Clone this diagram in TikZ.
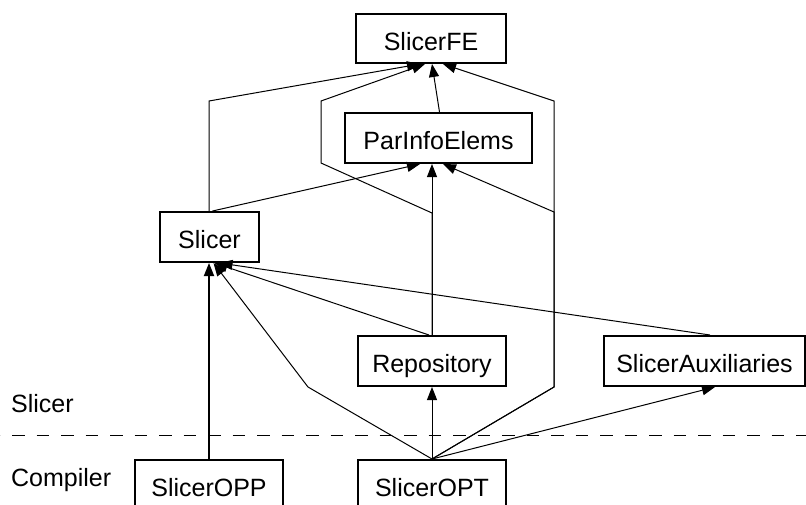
\documentclass[tikz,border=0pt]{standalone}
\usepackage{fontspec}
\setmainfont{Liberation Sans}
\usetikzlibrary{arrows.meta}
\begin{document}
\begin{tikzpicture}[x=1pt,y=-1pt,
  box/.style={draw,line width=2pt,inner sep=0pt,text height=23pt,text depth=0pt,font=\fontsize{25}{29}\selectfont},
  lbl/.style={anchor=base west,inner sep=0pt,font=\fontsize{25}{29}\selectfont},
  conn/.style={line width=1pt,line join=miter,-{Triangle[length=13pt,width=10pt]}}]
\useasboundingbox (0,0) rectangle (806,504);
\clip (0,0) rectangle (806,504);
% boxes
\node[box,minimum width=150pt,minimum height=49pt] (fe) at (431,38.5) {SlicerFE};
\node[box,minimum width=187pt,minimum height=50pt] (pie) at (438.5,138) {ParInfoElems};
\node[box,minimum width=99pt,minimum height=50pt] (sl) at (209.5,237) {Slicer};
\node[box,minimum width=148pt,minimum height=50pt] (rep) at (432,361) {Repository};
\node[box,minimum width=201pt,minimum height=50pt] (aux) at (704.5,361) {SlicerAuxiliaries};
\node[box,minimum width=148pt,minimum height=50pt] (opp) at (209,485) {SlicerOPP};
\node[box,minimum width=148pt,minimum height=50pt] (opt) at (432,485) {SlicerOPT};
% layer labels
\node[lbl] (lslicer) at (11,412) {Slicer};
\node[lbl] (lcomp) at (11,486) {Compiler};
\coordinate (dl) at (0,435);
\coordinate (dr) at (806,435);
\draw[line width=1pt,dash pattern=on 12.5pt off 12pt,dash phase=-12pt] (dl) -- (dr);
% connectors to SlicerFE
\draw[conn] ([xshift=-0.5pt]sl.north) -- (209,101) -- ([xshift=-11pt]fe.south);
\draw[conn] (rep.north) -- (432,213) -- (321,163) -- (321,101) -- ([xshift=-6pt]fe.south);
\draw[conn] ([xshift=1pt]pie.north) -- ([xshift=1pt]fe.south);
\draw[conn] (opt.north) -- (554,387) -- (554,101) -- ([xshift=12pt]fe.south);
% connectors to ParInfoElems
\draw[conn] ([xshift=3pt]sl.north) -- ([xshift=-18.5pt]pie.south);
\draw[conn] (rep.north) -- ([xshift=-6.5pt]pie.south);
\draw[conn] (opt.north) -- (554,387) -- (554,212) -- ([xshift=4.5pt]pie.south);
% connectors to Slicer
\draw[conn,line width=1.8pt] (opp.north) -- ([xshift=-0.5pt]sl.south);
\draw[conn] ([xshift=-3pt]rep.north) -- ([xshift=5pt]sl.south);
\draw[conn] ([xshift=5.5pt]aux.north) -- ([xshift=10pt]sl.south);
\draw[conn] (opt.north) -- (308,387) -- ([xshift=4pt]sl.south);
% connectors from SlicerOPT
\draw[conn] (opt.north) -- (rep.south);
\draw[conn] (opt.north) -- ([xshift=10.5pt]aux.south);
\end{tikzpicture}
\end{document}
